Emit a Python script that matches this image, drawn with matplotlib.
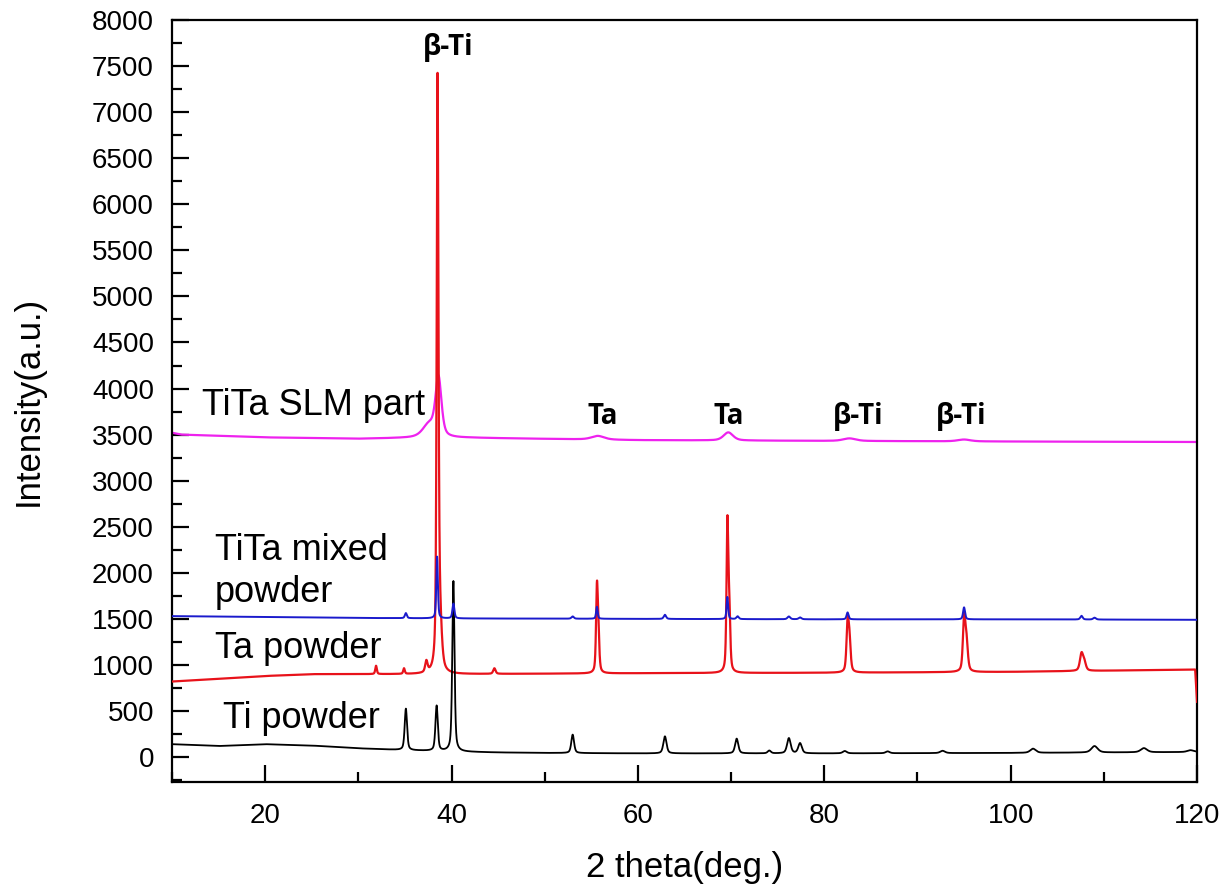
import numpy as np
import matplotlib
matplotlib.use("Agg")
import matplotlib.pyplot as plt
from matplotlib.ticker import MultipleLocator

plt.rcParams['font.family'] = ['Liberation Sans', 'DejaVu Sans']

# ---------------- data ----------------
# baselines: (2theta, intensity) control points
ti_base_x = [10, 15, 20, 25, 30, 35, 40, 45, 50, 60, 80, 100, 120]
ti_base_y = [140, 120, 140, 125, 95, 75, 60, 50, 45, 40, 40, 45, 55]

ta_base_x = [10, 15, 20, 25, 30, 35, 40, 50, 60, 80, 100, 119.8, 120]
ta_base_y = [820, 850, 880, 900, 900, 900, 900, 905, 910, 915, 925, 950, 600]

mix_base_x = [10, 20, 30, 40, 60, 80, 100, 120]
mix_base_y = [1530, 1520, 1510, 1505, 1500, 1495, 1495, 1490]

slm_base_x = [10, 11, 20, 30, 36, 42, 60, 80, 100, 120]
slm_base_y = [3520, 3500, 3470, 3455, 3465, 3465, 3440, 3432, 3425, 3420]

# peaks: position (deg), height above baseline, FWHM (deg)
ti_pk_pos = [35.1, 38.4, 40.2, 53.0, 62.9, 70.6, 74.1, 76.2, 77.4, 82.2, 86.8, 92.7, 102.4, 109.0, 114.3, 119.3]
ti_pk_h   = [450, 490, 1850, 200, 185, 160, 30, 165, 110, 25, 20, 25, 45, 70, 45, 20]
ti_pk_w   = [0.30, 0.30, 0.28, 0.35, 0.40, 0.40, 0.4, 0.45, 0.45, 0.5, 0.5, 0.6, 0.7, 0.8, 0.8, 0.8]

ta_pk_pos = [31.9, 34.9, 37.3, 38.5, 38.7, 44.6, 55.6, 55.75, 69.6, 69.8, 82.5, 82.7, 95.0, 95.25, 107.6, 107.9]
ta_pk_h   = [90, 60, 120, 6150, 600, 60, 850, 380, 1560, 650, 500, 330, 550, 330, 180, 90]
ta_pk_w   = [0.20, 0.2, 0.3, 0.22, 0.5, 0.3, 0.22, 0.25, 0.22, 0.25, 0.28, 0.3, 0.3, 0.35, 0.4, 0.4]

mix_pk_pos = [35.1, 38.45, 40.2, 53.0, 55.6, 62.9, 69.6, 70.7, 76.2, 77.4, 82.5, 95.0, 107.6, 109.0]
mix_pk_h   = [55, 670, 160, 25, 130, 45, 240, 30, 30, 20, 75, 130, 40, 20]
mix_pk_w   = [0.25, 0.20, 0.25, 0.3, 0.2, 0.3, 0.2, 0.3, 0.35, 0.35, 0.25, 0.25, 0.3, 0.35]

slm_pk_pos = [37.6, 38.6, 55.7, 69.7, 82.7, 95.0]
slm_pk_h   = [140, 630, 40, 88, 28, 20]
slm_pk_w   = [1.6, 0.75, 1.6, 1.2, 1.6, 1.6]

series_labels = ["Ti powder", "Ta powder", "TiTa mixed\npowder", "TiTa SLM part"]
series_colors = ["black", "#e8121a", "#1a1acc", "#ee22ee"]
label_x = [15.5, 14.6, 14.6, 13.2]
label_y = [423, 1183, 2013, 3821]

annot_text = ["β-Ti", "Ta", "Ta", "β-Ti", "β-Ti"]
annot_x    = [39.6, 56.2, 69.8, 83.6, 94.7]
annot_y    = [7700, 3700, 3700, 3700, 3700]

# ---------------- build profiles ----------------
x = np.linspace(10, 120, 11001)

def profile(bx, by, pos, h, w):
    y = np.interp(x, bx, by)
    for p, a, fw in zip(pos, h, w):
        g = (fw / 2) ** 2 / ((x - p) ** 2 + (fw / 2) ** 2)      # Lorentzian part
        s = fw / 2.3548
        gg = np.exp(-0.5 * ((x - p) / s) ** 2)                   # Gaussian part
        y = y + a * (0.5 * g + 0.5 * gg)
    return y

y_ti = profile(ti_base_x, ti_base_y, ti_pk_pos, ti_pk_h, ti_pk_w)
y_ta = profile(ta_base_x, ta_base_y, ta_pk_pos, ta_pk_h, ta_pk_w)
y_mix = profile(mix_base_x, mix_base_y, mix_pk_pos, mix_pk_h, mix_pk_w)
y_slm = profile(slm_base_x, slm_base_y, slm_pk_pos, slm_pk_h, slm_pk_w)

# ---------------- figure ----------------
fig = plt.figure(figsize=(12.31, 8.90), dpi=100)
ax = fig.add_axes([0.1397, 0.1213, 0.8327, 0.8562])

ax.plot(x, y_slm, color=series_colors[3], lw=1.6, zorder=2)
ax.plot(x, y_ta, color=series_colors[1], lw=1.6, zorder=3)
ax.plot(x, y_ti, color=series_colors[0], lw=1.3, zorder=4)
ax.plot(x, y_mix, color=series_colors[2], lw=1.4, zorder=5)

ax.set_xlim(10, 120)
ax.set_ylim(-271, 8000)

ax.xaxis.set_major_locator(MultipleLocator(20))
ax.xaxis.set_minor_locator(MultipleLocator(10))
ax.yaxis.set_major_locator(MultipleLocator(500))
ax.yaxis.set_minor_locator(MultipleLocator(250))
ax.tick_params(which='both', direction='in', top=False, right=False, labelsize=20, width=1.6)
ax.tick_params(which='major', length=12)
ax.tick_params(which='minor', length=7)
ax.tick_params(axis='x', pad=15)
ax.tick_params(axis='y', pad=13)
for sp in ax.spines.values():
    sp.set_linewidth(1.6)

ax.set_xlabel("2 theta(deg.)", fontsize=25, labelpad=16)
ax.set_ylabel("Intensity(a.u.)", fontsize=25, labelpad=34)

# series labels
for t, lx, ly in zip(series_labels, label_x, label_y):
    ax.text(lx, ly, t, fontsize=26, va='center', ha='left', linespacing=1.25)

for t, xx, yy in zip(annot_text, annot_x, annot_y):
    ax.text(xx, yy, t, fontsize=20, fontweight='bold', ha='center', va='center',
            family=['Open Sans', 'DejaVu Sans'])

fig.savefig("out.png", dpi=100)
